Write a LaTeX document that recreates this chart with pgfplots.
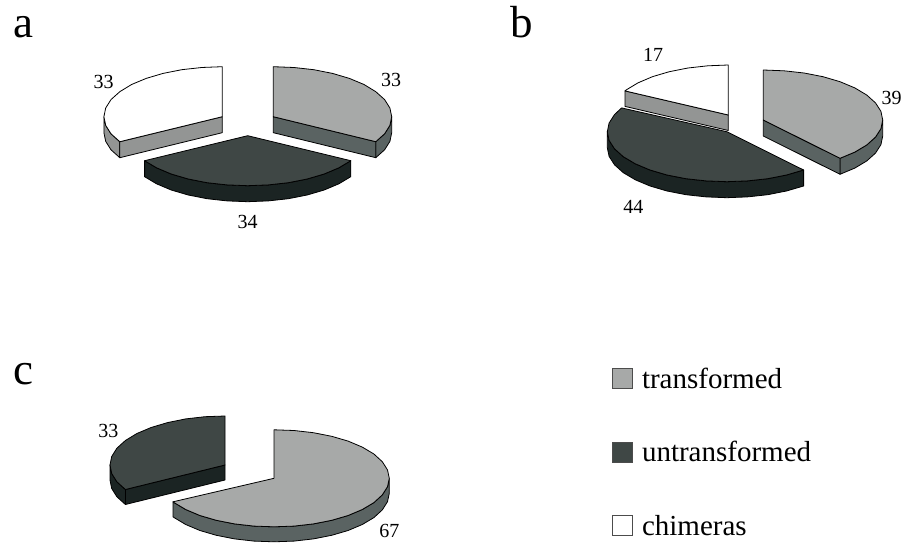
\documentclass[border=0pt]{standalone}
\usepackage{pgfplots}
\pgfplotsset{compat=1.18}
\usepackage{fontspec}
\setmainfont{Liberation Serif}

\definecolor{trtop}{HTML}{A7A9A8}
\definecolor{trside}{HTML}{5A6362}
\definecolor{untop}{HTML}{3F4745}
\definecolor{unside}{HTML}{1B2423}
\definecolor{chside}{HTML}{939594}

\pgfplotsset{slice/.style={draw=black,line width=0.8pt,line join=round,forget plot,mark=none}}
\tikzset{lab/.style={font=\fontsize{20}{22}\selectfont, inner sep=0pt},
         panel/.style={font=\fontsize{45}{47}\selectfont, inner sep=0pt, anchor=base west}}

\begin{document}
\begin{tikzpicture}
\begin{axis}[
    scale only axis,
    width=904pt, height=542pt,
    xmin=0, xmax=904, ymin=0, ymax=542,
    y dir=reverse,
    hide axis,
    clip=false,
    legend cell align=left,
    legend image code/.code={\draw[#1,draw=black!70,line width=1pt] (0pt,-7pt) rectangle (20pt,13pt);},
    legend style={at={(axis cs:612,368)}, anchor=north west, draw=none, fill=none,
        inner sep=0pt, outer sep=0pt, row sep=47.5pt, font=\fontsize{29}{31}\selectfont,
        nodes={text height=19pt, text depth=6pt, inner sep=0pt, outer sep=0pt},
        /tikz/every odd column/.append style={column sep=9pt}},
]
% --- a ---
% chimeras
\addplot[slice,fill=chside] coordinates {(103.9,116.7) (105.7,125.4) (111.0,133.8) (119.8,141.7) (119.8,157.7) (111.0,149.8) (105.7,141.4) (103.9,132.7)} -- cycle;
\addplot[slice,fill=chside] coordinates {(222.3,116.7) (119.8,141.7) (119.8,157.7) (222.3,132.7)} -- cycle;
\addplot[slice,fill=white] coordinates {(222.3,116.7) (222.3,66.7) (201.7,67.5) (181.8,69.7) (163.1,73.4) (146.2,78.4) (131.6,84.5) (119.8,91.7) (111.0,99.6) (105.7,108.0) (103.9,116.7) (105.7,125.4) (111.0,133.8) (119.8,141.7)} -- cycle;
% transformed
\addplot[slice,fill=trside] coordinates {(391.7,116.7) (389.9,125.4) (384.6,133.8) (375.8,141.7) (375.8,157.7) (384.6,149.8) (389.9,141.4) (391.7,132.7)} -- cycle;
\addplot[slice,fill=trside] coordinates {(273.3,116.7) (375.8,141.7) (375.8,157.7) (273.3,132.7)} -- cycle;
\addplot[slice,fill=trtop] coordinates {(273.3,116.7) (273.3,66.7) (293.9,67.5) (313.8,69.7) (332.5,73.4) (349.4,78.4) (364.0,84.5) (375.8,91.7) (384.6,99.6) (389.9,108.0) (391.7,116.7) (389.9,125.4) (384.6,133.8) (375.8,141.7)} -- cycle;
% untransformed
\addplot[slice,fill=unside] coordinates {(350.8,160.7) (338.9,167.8) (324.2,174.0) (307.2,179.0) (288.4,182.7) (268.4,184.9) (247.7,185.7) (227.0,184.9) (207.0,182.7) (188.2,179.0) (171.2,174.0) (156.5,167.8) (144.6,160.7) (144.6,176.7) (156.5,183.8) (171.2,190.0) (188.2,195.0) (207.0,198.7) (227.0,200.9) (247.7,201.7) (268.4,200.9) (288.4,198.7) (307.2,195.0) (324.2,190.0) (338.9,183.8) (350.8,176.7)} -- cycle;
\addplot[slice,fill=untop] coordinates {(247.7,135.7) (350.8,160.7) (338.9,167.8) (324.2,174.0) (307.2,179.0) (288.4,182.7) (268.4,184.9) (247.7,185.7) (227.0,184.9) (207.0,182.7) (188.2,179.0) (171.2,174.0) (156.5,167.8) (144.6,160.7)} -- cycle;
% --- b ---
% chimeras
\addplot[slice,fill=chside] coordinates {(728.3,115) (625,90.9) (625,106.4) (728.3,130.5)} -- cycle;
\addplot[slice,fill=white] coordinates {(728.3,115) (728.3,65) (707.8,65.8) (688,68) (669.3,71.7) (652.4,76.7) (637.9,82.9) (626.1,90) (625,90.9)} -- cycle;
% transformed
\addplot[slice,fill=trside] coordinates {(882.7,120) (880.9,128.7) (875.5,137.1) (866.7,145) (854.8,152.1) (840,158.3) (840,174.3) (854.8,168.1) (866.7,161) (875.5,153.1) (880.9,144.7) (882.7,136)} -- cycle;
\addplot[slice,fill=trside] coordinates {(763.3,120) (840,158.3) (840,174.3) (763.3,136)} -- cycle;
\addplot[slice,fill=trtop] coordinates {(763.3,120) (763.3,70) (784,70.8) (804.1,73) (823,76.7) (840,81.7) (854.8,87.9) (866.7,95) (875.5,102.9) (880.9,111.3) (882.7,120) (880.9,128.7) (875.5,137.1) (866.7,145) (854.8,152.1) (840,158.3)} -- cycle;
% untransformed
\addplot[slice,fill=unside] coordinates {(803.6,170) (786.5,175) (767.7,178.7) (747.5,180.9) (726.8,181.7) (706.1,180.9) (685.9,178.7) (667,175) (650,170) (635.3,163.8) (623.3,156.7) (614.5,148.8) (609.1,140.4) (607.3,131.7) (607.3,147.7) (609.1,156.4) (614.5,164.8) (623.3,172.7) (635.3,179.8) (650,186) (667,191) (685.9,194.7) (706.1,196.9) (726.8,197.7) (747.5,196.9) (767.7,194.7) (786.5,191) (803.6,186)} -- cycle;
\addplot[slice,fill=untop] coordinates {(726.8,131.7) (803.6,170) (786.5,175) (767.7,178.7) (747.5,180.9) (726.8,181.7) (706.1,180.9) (685.9,178.7) (667,175) (650,170) (635.3,163.8) (623.3,156.7) (614.5,148.8) (609.1,140.4) (607.3,131.7) (609.1,123) (614.5,114.6) (621.6,107.9)} -- cycle;
% --- c ---
% untransformed
\addplot[slice,fill=unside] coordinates {(110,465) (111.7,473.5) (116.9,481.8) (125.4,489.5) (125.4,504.5) (116.9,496.8) (111.7,488.5) (110,480)} -- cycle;
\addplot[slice,fill=unside] coordinates {(225,465) (125.4,489.5) (125.4,504.5) (225,480)} -- cycle;
\addplot[slice,fill=untop] coordinates {(225,465) (225,416) (205,416.7) (185.7,418.9) (167.5,422.6) (151.1,427.5) (136.9,433.5) (125.4,440.5) (116.9,448.2) (111.7,456.5) (110,465) (111.7,473.5) (116.9,481.8) (125.4,489.5)} -- cycle;
% transformed
\addplot[slice,fill=trside] coordinates {(389.3,478.3) (387.5,486.7) (382.3,494.9) (373.9,502.6) (362.3,509.5) (348.1,515.5) (331.7,520.3) (313.4,523.9) (294,526.1) (274,526.8) (254,526.1) (234.6,523.9) (216.3,520.3) (199.9,515.5) (185.7,509.5) (174.1,502.6) (173,501.8) (173,516.8) (174.1,517.6) (185.7,524.5) (199.9,530.5) (216.3,535.3) (234.6,538.9) (254,541.1) (274,541.8) (294,541.1) (313.4,538.9) (331.7,535.3) (348.1,530.5) (362.3,524.5) (373.9,517.6) (382.3,509.9) (387.5,501.7) (389.3,493.3)} -- cycle;
\addplot[slice,fill=trtop] coordinates {(274,478.3) (274,429.8) (294,430.5) (313.4,432.7) (331.7,436.3) (348.1,441.1) (362.3,447.1) (373.9,454) (382.3,461.7) (387.5,469.9) (389.3,478.3) (387.5,486.7) (382.3,494.9) (373.9,502.6) (362.3,509.5) (348.1,515.5) (331.7,520.3) (313.4,523.9) (294,526.1) (274,526.8) (254,526.1) (234.6,523.9) (216.3,520.3) (199.9,515.5) (185.7,509.5) (174.1,502.6) (173,501.8)} -- cycle;
% legend
\addlegendimage{fill=trtop}
\addlegendentry{transformed}
\addlegendimage{fill=untop}
\addlegendentry{untransformed}
\addlegendimage{fill=white}
\addlegendentry{chimeras}
% labels
\path (axis cs:0,0) (axis cs:904,542);
\node[lab] at (axis cs:103.5,81.5) {33};
\node[lab] at (axis cs:391,80) {33};
\node[lab] at (axis cs:247.7,221.7) {34};
\node[lab] at (axis cs:653,54.7) {17};
\node[lab] at (axis cs:891.7,97.7) {39};
\node[lab] at (axis cs:633.3,206.7) {44};
\node[lab] at (axis cs:108.3,430.7) {33};
\node[lab] at (axis cs:389.3,530.7) {67};
\node[panel] at (axis cs:13,38) {a};
\node[panel] at (axis cs:510,38) {b};
\node[panel] at (axis cs:13,384) {c};
\end{axis}
\end{tikzpicture}
\end{document}
